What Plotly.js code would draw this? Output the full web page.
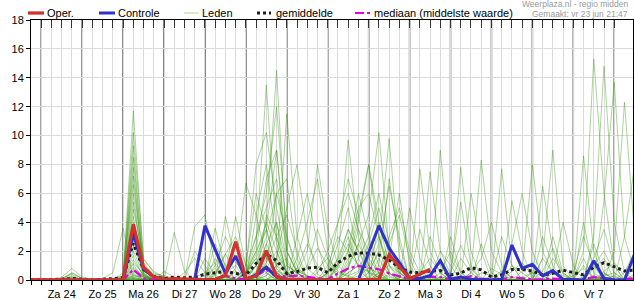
<!DOCTYPE html>
<html><head><meta charset="utf-8">
<script src="https://cdn.plot.ly/plotly-3.0.1.min.js"></script>
<style>html,body{margin:0;padding:0;background:#fff}#chart{width:635px;height:300px}</style>
</head><body><div id="chart"></div>
<script>
// time grid: 6-hourly, first point vr 23 jun 2023 18:00
const startMs = Date.UTC(2023, 5, 23, 18);
const stepHours = 6;
const nPoints = 60;

const dayLabels = ['Za 24','Zo 25','Ma 26','Di 27','Wo 28','Do 29','Vr 30','Za 1','Zo 2','Ma 3','Di 4','Wo 5','Do 6','Vr 7'];
const yTicks = [0,2,4,6,8,10,12,14,16,18];

// blocks: first point, then per day 4 values (00,06,12,18h)
const oper = [0, 0,0,0,0, 0,0,0,0, 0,3.85,0.88,0.2, 0.05,0.1,0.1,0.05, 0,0.05,0.3,2.65, 0.1,0.25,2.03,0.2, 0.05,0,0,0, 0,0,0,0, 0,0.05,1.75,0.9, 0.1,0.4,0.75];
const controle = [0, 0,0,0,0, 0,0,0,0, 0,3.23,0.75,0.2, 0.05,0,0,0.05, 3.76,2.1,0.45,1.66, 0.05,0.35,0.88,0.2, 0.05,0,0,0, 0,0,0,0, 1.9,3.76,2.2,1.2, 0.1,0.1,0.3,1.34, 0.05,0.2,0.05,0, 0,0.05,2.42,0.8, 1.08,0.3,0.65,0.05, 0,0,1.34,0.1, 0,0,1.8];
const gemiddelde = [0, 0,0,0.05,0.1, 0.05,0.02,0.05,0.1, 0.15,2.54,0.74,0.25, 0.1,0.2,0.15,0.2, 0.4,0.5,0.6,0.45, 0.35,1.15,1.8,1.34, 0.44,0.58,0.82,0.88, 0.5,1.2,1.64,1.88, 1.85,1.73,1.38,0.86, 0.55,0.5,0.62,0.65, 0.35,0.48,0.85,0.7, 0.21,0.35,0.72,0.74, 0.62,0.35,0.46,0.68, 0.5,0.35,0.9,1.2, 0.92,0.62,0.68];
const mediaan = [0, 0,0,0,0, 0,0,0,0, 0,0.72,0.1,0, 0,0,0,0, 0.05,0.1,0.3,0.1, 0.05,0.3,0.7,0.3, 0.25,0.3,0.2,0.1, 0.05,0.45,0.8,0.97, 0.88,0.74,0.46,0.23, 0.05,0.1,0.23,0.2, 0.05,0.1,0.27,0.1, 0.05,0.05,0.2,0.1, 0.05,0.05,0.1,0.05, 0.05,0.05,0.2,0.1, 0.05,0.05,0.12];

const leden = [
[0, 0,0,0,0, 0,0,0,0, 0.2,11.7,1.2,0.3, 0,0,0,0.2, 0.5,1.2,0.3,0, 0.4,2.5,13.5,3.0, 0.5,0.2,0,0.8, 1.5,0.6,0.2,0, 0,0.3,1.8,0.5, 0,0,0.4,0, 0,0.2,0,0, 0,0,0.6,1.2, 0.3,0,0,0, 0,0.2,0,0, 0,0,0.4],
[0, 0,0,0.1,0.2, 0,0,0,0, 0.3,10.2,1.5,0.5, 0.2,0,0,0, 0,0.4,1.8,0.6, 0.2,1.0,4.0,14.5, 2.0,0.6,0.3,0, 0,1.2,3.5,2.0, 0.8,0.5,0.2,0, 0,0,0.3,0, 0.5,2.4,0.8,0, 0,0,0,0, 0,0.6,2.2,0.4, 0,0,0.3,0, 0,0,0],
[0, 0,0,0,0, 0,0,0,0, 0.1,9.3,0.6,0.2, 0,0,0,0, 1.5,0.3,0,0.2, 0.8,8.0,10.2,5.0, 1.2,0.4,0.8,2.2, 1.0,0.5,0.3,0.6, 2.5,5.0,2.0,0.6, 0,0,0,0.2, 0,0,0,0, 0.8,0.4,0,0, 0,0,0.5,0.3, 0,0,0,0.6, 1.2,0.3,0],
[0, 0,0,0,0, 0,0,0,0, 0,8.5,1.0,0.4, 0.3,0.1,0,0, 0,0,0.5,4.4, 1.0,0.3,0,0.5, 0.3,0,0,0, 0.4,1.5,9.7,3.0, 0.5,0.2,0,0, 0,0.6,0.2,0, 0,0,0,0.5, 0.3,0,0,0, 0,1.5,0.5,0, 0,0,0,0.2, 0,0,0],
[0, 0,0,0,0.5, 0.1,0,0,0, 0.2,7.8,0.4,0, 0,0,0,0, 0,0,0,0.8, 6.7,4.5,1.5,0.6, 0.4,0.8,0.3,0, 0,0,0.8,2.5, 4.5,10.2,2.0,0.3, 0,0,0,0, 0,0,0,0, 0.2,0.6,0.2,0, 0,0,0,0, 0,0,0,0.4, 0.2,0,0],
[0, 0,0,0,0, 0,0,0,0, 0,7.2,0.8,0.2, 0,0,0,0, 0,0,0.2,0, 0.6,3.0,6.0,12.0, 3.0,0.5,0,0, 0,0,0,0.3, 0.8,2.5,9.8,1.5, 0.3,0,0,0, 0,0,0,0, 0,0,0,0.2, 0.5,0.3,0,0, 0,0,0,0, 0,0,0],
[0, 0,0,0,0, 0,0,0,0.1, 0.3,6.6,1.0,0.3, 0.2,0,0,0, 0,0,0,0, 0,0.5,2.5,1.0, 11.5,3.0,0.8,0.2, 0,0,0.5,1.0, 0.6,0.2,0,0, 0,0,7.5,2.0, 0.4,0,0,0, 0,0,0,0, 0,0,0,0, 0.3,0.8,0.2,0, 0,0,0],
[0, 0,0,0,0, 0,0,0,0, 0,6.0,0.5,0, 0,0,0,0, 0,0,0,0, 0.5,1.5,3.5,9.0, 1.0,0,0,0.5, 2.0,4.0,7.0,4.5, 1.0,0.3,0,0, 0,0,0,0, 0,0,0.5,8.3, 2.0,0.5,0,0, 0,0,0,0, 0,0,0,0.3, 0.5,0,0],
[0, 0,0,0,0, 0,0,0,0, 0.1,5.4,0.9,0.3, 0,0,0,0, 0.3,0.8,0,0, 0,4.5,8.0,2.5, 0.4,0,0,0, 0,0,0,0, 0,0,0.4,0.2, 0,0,0,9.0, 1.5,0.3,0,0, 0,0,0,0, 0,0,0,0, 0,8.6,2.0,0, 0.3,0,0],
[0, 0,0,0,0, 0,0,0,0, 0,4.9,1.4,0.6, 0.2,0,0,0, 0,0,0,0, 0,0,0.3,1.5, 5.0,8.0,3.0,0.4, 0,0,0.2,1.5, 3.0,6.0,2.5,0.5, 0,0,0,0, 0,0,0,0, 0,7.7,1.0,0, 0,0,0,0, 0,0,0,0, 0,0,0],
[0, 0,0,0,0, 0,0,0,0, 0.5,4.4,0.7,0, 0,0,0,0, 0,0,0,0.6, 0,0.2,1.2,6.0, 7.0,1.5,0,0, 0,0,1.2,4.0, 8.0,3.0,0.5,0, 0,0,0,0, 0,0,0,0, 0,0,0,0, 0,1.5,9.0,1.0, 0,0,0,0, 0,0,0],
[0, 0,0,0,0, 0,0,0,0, 0,4.0,0.6,0.3, 0,0,0,0, 0,0,0,0, 0,0,0,0.3, 0,0.5,2.0,8.0, 3.5,1.0,0.3,0, 0,0,0,0, 0,0,0,0, 0,0,0,0, 0,0,0,0, 0,0,0,0, 0,2.0,15.3,6.0, 1.0,0,0],
[0, 0,0,0,0, 0,0,0,0, 0,3.6,0.8,0.2, 0,0,0,0, 0,0,0,0, 0.3,1.8,4.0,2.0, 0,0,0,0, 0,1.0,2.5,1.0, 0,0,0,0, 0,0,0,0, 0.5,5.4,1.0,0, 0,0,0,0, 0,0,0,0, 0,0,3.0,14.8, 4.0,0.5,0],
[0, 0,0,0,0, 0,0,0,0, 0,3.2,0.5,0, 0,0,0,0, 0,0,0,0, 0,0,0.5,1.5, 0.5,0,0,0, 0,0.8,2.0,5.0, 6.0,3.0,1.0,0.2, 0,0,0,0, 0,0,0,0, 0,0,0,0, 0,0,0,0, 0,0,0,5.5, 13.7,3.0,0.5],
[0, 0,0,0,0, 0,0,0,0, 0,2.8,0.3,0, 0,0,0,0, 0,0.6,0.3,0, 0,0.3,1.0,0.5, 0,0,0,0, 0,0,0,0, 0.5,2.0,6.5,3.0, 0,0,0,0, 0,0,0,0, 0,0,0,0, 0,6.5,2.0,0, 0,0,0,0, 2.0,12.3,3.0],
[0, 0,0,0,0, 0,0,0,0, 0,2.4,0.6,0.2, 0,0,0,0, 0,0,0,0, 0.5,2.0,3.5,1.0, 0,3.0,6.0,2.5, 0,0,0,0, 0,0,0,0, 0,7.7,2.0,0.5, 0,0,0,0, 0,0,0,0, 0,0,0,0, 0,0,0,0, 0,3.0,8.0],
[0, 0,0,0,0, 0,0,0,0, 0,2.0,0.4,0, 0,3.3,0.6,0, 0,0,0,0, 1.0,3.0,5.0,7.0, 2.0,0.5,0,0, 0,0,0.8,3.5, 2.0,0.5,0,0, 0,0,0,0, 0,0,0,0, 0,0,0,0.6, 8.0,2.0,0.5,0, 0,0,0,0, 0,0,0],
[0, 0,0,0,0, 0,0,0,0, 0,1.7,0.2,0, 0,0,0,3.7, 4.5,1.0,0.2,0, 0,0.6,2.5,4.0, 0,0,0,0, 0.5,4.0,6.0,3.5, 1.0,0,0,0, 0,0,0,0, 0,0,0,0, 0,0,0,0, 0,0,0,0, 0,0,0.8,1.5, 0,0,0],
[0, 0,0,0,0, 0,0,0,0, 0,1.4,0.3,0, 0,0,0,0, 0,0,4.4,1.2, 0.5,2.0,7.0,9.0, 2.0,0.5,0,0, 0,0,0,0, 0,0.5,3.0,5.0, 2.0,0.5,0,0, 0,0,0,2.5, 0.5,0,0,0, 0,0,0,0, 0,0,0,0, 0,0,0],
[0, 0,0,0,0, 0,0,0,0, 0,1.1,0,0, 0,0,0,0, 0,0.3,1.8,3.0, 1.0,6.0,3.5,0.8, 0,0,0,0, 0,0,1.5,4.5, 8.0,4.0,1.0,0, 0,0,0,0, 0,1.5,0.5,0, 0,0,0,0, 0,0,0,0, 0,0,2.5,0.5, 0,0,0],
[0, 0,0,0,0, 0,0,0,0, 0,0.9,0.2,0, 0,0,0,0, 0,0,0,0, 0,0,1.5,4.0, 1.0,0.5,0,0, 0,0,0,0.5, 1.5,3.0,0.5,0, 0,0.5,1.5,0.5, 0,0,0,0, 0,0,5.5,2.0, 0,0,0,0, 0,0,0,0, 0,0.5,2.0],
[0, 0,0,0,0, 0,0,0,0, 0,0.7,0.3,0, 0,0,0,0, 0,0,0,0, 0,1.0,3.0,6.0, 3.0,1.0,0,0, 0,1.5,3.5,2.0, 0.5,0,0,0, 0,0,0,0, 0,7.8,2.0,0, 0,0,0,0, 0,0,0,0, 0,0,0,0, 0,0,0],
[0, 0,0,0.2,0.8, 0.2,0,0,0, 0,0.6,0.2,0, 0,0,0,0, 0,2.5,1.0,0, 0,0,0.8,2.0, 0.5,0,0,0, 0,0,0,0, 0,1.0,7.0,2.5, 0,0,0,0, 0,0,0,0, 0,0,0,0, 0,0,0,0, 0,0,1.5,3.5, 1.0,0,0],
[0, 0,0,0.1,0.5, 0.1,0,0,0, 0,0.5,0,0, 0,0,0,0, 0,0,0,0, 0,0.4,1.0,0.2, 0,1.5,4.0,7.0, 2.0,0,0.5,1.0, 1.5,0.5,0,0, 0,0,3.0,1.0, 0,0,0,0, 0,0,0,0, 0.5,0,0,0, 0,0,0,0, 0,0,0],
[0, 0,0,0.1,0.4, 0,0,0,0, 0,0.4,0,0, 0,0,0,0, 0,0,0,0, 0,0,0,0, 0,0,0,0, 0.5,2.5,5.0,1.5, 0,0,0,0, 0,0,0,0, 0,0,0,0, 0,0,1.0,0.5, 0,0,0,0, 0,0,0,0.5, 0,0,0],
[0, 0,0,0,0.3, 0,0,0,0, 0,0.3,0.2,0, 0,0,0,0, 0,0,0,0, 0,0,1.2,3.0, 4.5,2.0,0,0, 0,0,0,0, 0,0,0,0, 5.0,1.5,0,0, 0,0,0,0, 0,0,0,0, 0,0,0,0, 0,0,0,0, 0,0,0],
[0, 0,0,0,0.2, 0,0,0,0, 0,0.3,0.1,0, 0,0,0,0, 0,0,0,0, 0,0,0,0, 0,0,0,0, 0,0,0,0, 0,0.3,1.5,6.0, 1.0,0,0,0, 3.0,0.5,0,0, 0,0,0,0, 0,0,0.5,4.0, 1.0,0,0,0, 0,0,0],
[0, 0,0,0,0, 0,0,0,0, 0,0.2,0,0, 0,0,0,0, 0,0,0,0, 0,0,0,0, 0,0,0,0, 0,1.0,3.0,0.8, 0,0,0,0, 0,0,0,0, 0,0,0,0, 0,0.5,2.5,6.0, 2.0,0.3,0,0, 0,0,0,0, 0,0,0],
[0, 0,0,0,0, 0,0,0,0, 0,0.2,0,0, 0,0,0,0, 0,0,0.5,1.0, 0,0,0,0, 0,0.8,2.5,1.0, 0,0,0,0, 0,4.0,2.0,0, 0,0,0,0, 0,0,0,0, 0,0,0,0, 0,0,0,0, 0.5,3.0,1.0,0, 0,0,0],
[0, 0,0,0,0, 0,0,0,0, 0,0.1,0,0, 0.6,0.2,0,0, 0,0,0,0, 0,0,2.0,0.5, 0,0,0,0, 0,0,0,0, 0,0,0,0, 0,0,0,0, 0,0,6.0,2.0, 0,0,0,0, 0,0,0,0, 0,4.0,0.5,0, 0,0,0],
[0, 0,0,0,0, 0,0,0,0, 0,0.1,0,0, 0,0,0,0, 0,1.5,0.5,0, 0,0,0,0, 0,0,0,0, 1.0,3.0,2.0,1.0, 0.5,2.0,0.5,0, 0,0,0,0, 0,0,0,0, 0,0,0,0, 0,0,3.0,0.5, 0,0,0,0, 0,0,0],
[0, 0,0,0,0, 0,0,0,0, 0,0.1,0,0, 0,0,0.5,1.5, 0.5,0,0,0, 0,0,0,1.0, 1.5,0,0,0, 0,0,1.0,2.5, 1.0,0,0,0, 0,0,0,0.5, 2.0,0.5,0,0, 0,0,0,0, 0,0,0,0, 0,0,0,0, 0,0,0],
[0, 0,0,0,0, 0,0,0,0, 0,0,0,0, 0,0,0,0, 0,1.0,3.0,1.5, 0.3,1.0,0.5,0, 0,0,0,0, 0,0,0,0, 0,0,0,0, 0,0,0,0, 0,0,0.5,1.5, 4.0,1.0,0,0, 0,0,0,0, 0,0,0,0, 0,0,0],
[0, 0,0,0,0, 0,0,0,0, 0,0,0,0, 0,0,0,0, 0,3.6,0.8,0, 0,0,0,0, 0,0,0,0, 0,0,2.0,6.0, 3.0,1.0,0,0, 0,0,0,0, 0,0,0,0, 0,0,0,0, 0,0,0,0, 0,1.5,0,0, 0,0,0],
[0, 0,0,0,0, 0,0,0,0, 0,0,0,0, 0,0,0,0, 0,0,0,0, 0,0,4.5,3.0, 0.5,0,0,0, 0,0,0,0, 0,0,0,0, 0,3.5,1.0,0, 0,0,0,0, 0,0,0,0, 0,0,0,0, 0,0,0,0, 0,0,1.0],
[0, 0,0,0,0, 0,0,0.1,0.5, 3.6,0,0,0, 0,0,0,0, 0,0,0,0, 0,0,0,0.5, 1.0,0.5,0,0, 0,0,0,0, 0,0,2.5,4.5, 1.5,0,0,0, 0,0,0,0, 0,3.0,1.0,0, 0,0,0,0, 0,0,0,0, 0,0,0],
[0, 0,0,0,0, 0,0,0,0, 0,0,0,0, 0,0,0,2.0, 1.0,0,0,0, 0,1.0,2.0,0.5, 0,0,0,0, 0,0,0,0, 0,0,0,0, 0,0,0,0, 0,0,0,0, 0,0,0,0, 0,0,0,0, 0,0,1.0,2.0, 0.5,0,0],
[0, 0,0,0,0, 0,0,0,0, 0,0,0,0, 0,0,0,0, 0,0,0,0, 0,0,0.3,1.0, 0.5,0,0,0, 0,0,0,0, 0,1.5,0.3,0, 0,0,0,2.0, 1.0,0,0,0, 0,0,0,0, 0,0,1.5,0.5, 0,0,0,0, 0,0,0],
[0, 0,0,0,0, 0,0,0,0, 0,0.8,0.3,0, 0,0,0,0, 0,0,0,0, 0,0,0,0, 0,0,1.0,3.5, 1.5,0,0,0, 0,0,0,0, 0,0,0,0, 0,0,0,0, 0,0,0,0, 0,3.0,1.0,0, 0,0,0,0, 0,0,0],
[0, 0,0,0,0, 0,0,0,0, 0,1.2,0.4,0, 0,0,0,0, 0,0,0,0, 0.5,1.5,0.5,0, 0,0,0,0, 0,0,0,0, 0,0.5,1.0,0.5, 0,0,0,0, 0,0,0,0, 0,0,0,0, 0,0,0,0, 0,1.0,0,0, 0,0,0]
];

// ---- build ----
const H = 3600 * 1000;
const times = Array.from({length: nPoints}, (_, i) => startMs + i * stepHours * H);
const xStart = startMs;
const xEnd = startMs + 353 * H;
const day0 = startMs + 6 * H; // za 24 00:00

const tickTimes = [], tickText = [];
for (let h = 0; h <= 347; h += 6) {
  tickTimes.push(startMs + h * H);
  const hd = h - 6; // hours since za 24 00:00
  tickText.push(hd >= 0 && hd % 24 === 12 ? dayLabels[(hd - 12) / 24] : '');
}

const traces = [];
leden.forEach(m => traces.push({
  x: times.slice(0, m.length), y: m, type: 'scatter', mode: 'lines',
  line: {color: 'rgba(60,150,20,0.42)', width: 1}, hoverinfo: 'skip', showlegend: false
}));
traces.push({x: times, y: mediaan, type:'scatter', mode:'lines', line:{color:'rgb(225,0,230)', width:2.2, dash:'dashdot'}, hoverinfo:'skip', showlegend:false});
traces.push({x: times, y: gemiddelde, type:'scatter', mode:'lines', line:{color:'#1e1e1e', width:3, dash:'dot'}, hoverinfo:'skip', showlegend:false});
traces.push({x: times.slice(0, controle.length), y: controle, type:'scatter', mode:'lines', line:{color:'rgb(48,48,205)', width:3}, hoverinfo:'skip', showlegend:false});
traces.push({x: times.slice(0, oper.length), y: oper, type:'scatter', mode:'lines', line:{color:'rgb(212,48,48)', width:3.3}, hoverinfo:'skip', showlegend:false});
traces.push({x: [xStart], y: [null], xaxis:'x2', yaxis:'y', type:'scatter', mode:'lines', hoverinfo:'skip', showlegend:false});

// pixel helpers for the legend area
const PL = 31, PR = 633, PT = 20, PB = 280;
const px = v => (v - PL) / (PR - PL);
const py = v => (PB - v) / (PB - PT);

const shapes = [];
for (let d = 0; d <= 14; d++) {
  const xd = day0 + d * 24 * H;
  shapes.push({type:'line', xref:'x', yref:'paper', x0:xd, x1:xd, y0:0, y1:1, line:{color:'#555', width:1.5}, layer:'between'});
}
const legendItems = [
  {x0:28, x1:44, tx:47, text:'Oper.', line:{color:'rgb(212,48,48)', width:3.3}},
  {x0:99, x1:115, tx:118, text:'Controle', line:{color:'rgb(48,48,205)', width:3}},
  {x0:184, x1:199, tx:202, text:'Leden', line:{color:'rgb(185,222,170)', width:1.2}},
  {x0:257, x1:271, tx:276, text:'gemiddelde', line:{color:'#1e1e1e', width:3, dash:'dot'}},
  {x0:355, x1:371, tx:374, text:'mediaan (middelste waarde)', line:{color:'rgb(225,0,230)', width:2.2, dash:'dashdot'}}
];
const annotations = [];
legendItems.forEach(it => {
  shapes.push({type:'line', xref:'paper', yref:'paper', x0:px(it.x0), x1:px(it.x1), y0:py(13), y1:py(13), line:it.line});
  annotations.push({xref:'paper', yref:'paper', x:px(it.tx - 2), y:py(13), xanchor:'left', yanchor:'middle', text:it.text, showarrow:false, font:{size:11, color:'#000'}});
});
annotations.push({xref:'paper', yref:'paper', x:px(630), y:py(4), xanchor:'right', yanchor:'middle', text:'Weerplaza.nl - regio midden', showarrow:false, font:{size:8.5, color:'#999'}});
annotations.push({xref:'paper', yref:'paper', x:px(630), y:py(14), xanchor:'right', yanchor:'middle', text:'Gemaakt: vr 23 jun 21:47', showarrow:false, font:{size:8.5, color:'#999'}});

const layout = {
  width: 635, height: 300,
  margin: {l: PL, r: 635 - PR, t: PT, b: 300 - PB, pad: 0},
  paper_bgcolor: '#fff', plot_bgcolor: '#fff',
  showlegend: false,
  font: {family: '"Liberation Sans", Arial, sans-serif', size: 11, color: '#000'},
  xaxis: {type:'date', range:[xStart, xEnd], tickmode:'array', tickvals:tickTimes, ticktext:tickText,
    ticks:'outside', ticklen:4, tickcolor:'#000', showgrid:true, gridcolor:'#dadada', gridwidth:1,
    showline:true, linecolor:'#000', linewidth:1, mirror:true, zeroline:false, fixedrange:true},
  xaxis2: {type:'date', overlaying:'x', side:'top', anchor:'y', range:[xStart, xEnd], tickmode:'array', tickvals:tickTimes,
    ticks:'inside', ticklen:8, tickcolor:'#333', showticklabels:false, showgrid:false, showline:false, zeroline:false, fixedrange:true},
  yaxis: {range:[0, 18], tickmode:'array', tickvals:yTicks, ticktext:yTicks.map(String), ticks:'outside', ticklen:4, tickcolor:'#000',
    showgrid:true, gridcolor:'#dadada', showline:true, linecolor:'#000', linewidth:1, mirror:true, zeroline:false, fixedrange:true},
  shapes: shapes,
  annotations: annotations
};

Plotly.newPlot('chart', traces, layout, {staticPlot:true, displayModeBar:false});
</script>
</body></html>
